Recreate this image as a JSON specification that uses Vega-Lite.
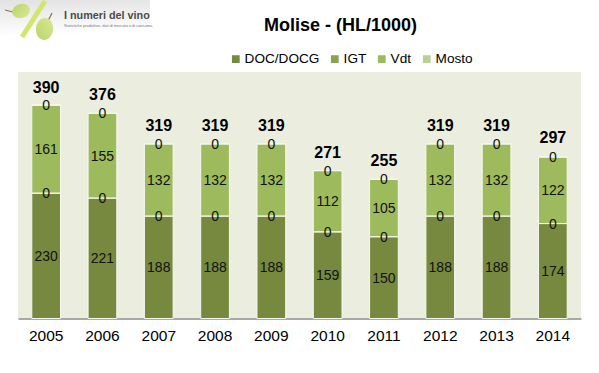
{
"$schema":"https://vega.github.io/schema/vega-lite/v6.json",
"width":563,"height":246.5,
"autosize":{"type":"none"},
"padding":{"left":18,"top":72,"right":18,"bottom":54.5},
"background":"#ffffff",
"view":{"fill":"#ebeedf","stroke":null},
"title":{"text":"Molise - (HL/1000)","font":"Liberation Sans","fontSize":18,"fontWeight":"bold","color":"#000000","anchor":"middle","dx":41,"offset":-44},
"datasets":{
"bars":[
{"year":"2005","type":"DOC/DOCG","ord":1,"value":230},{"year":"2005","type":"IGT","ord":2,"value":0},{"year":"2005","type":"Vdt","ord":3,"value":161},{"year":"2005","type":"Mosto","ord":4,"value":0},
{"year":"2006","type":"DOC/DOCG","ord":1,"value":221},{"year":"2006","type":"IGT","ord":2,"value":0},{"year":"2006","type":"Vdt","ord":3,"value":155},{"year":"2006","type":"Mosto","ord":4,"value":0},
{"year":"2007","type":"DOC/DOCG","ord":1,"value":188},{"year":"2007","type":"IGT","ord":2,"value":0},{"year":"2007","type":"Vdt","ord":3,"value":132},{"year":"2007","type":"Mosto","ord":4,"value":0},
{"year":"2008","type":"DOC/DOCG","ord":1,"value":188},{"year":"2008","type":"IGT","ord":2,"value":0},{"year":"2008","type":"Vdt","ord":3,"value":132},{"year":"2008","type":"Mosto","ord":4,"value":0},
{"year":"2009","type":"DOC/DOCG","ord":1,"value":188},{"year":"2009","type":"IGT","ord":2,"value":0},{"year":"2009","type":"Vdt","ord":3,"value":132},{"year":"2009","type":"Mosto","ord":4,"value":0},
{"year":"2010","type":"DOC/DOCG","ord":1,"value":159},{"year":"2010","type":"IGT","ord":2,"value":0},{"year":"2010","type":"Vdt","ord":3,"value":112},{"year":"2010","type":"Mosto","ord":4,"value":0},
{"year":"2011","type":"DOC/DOCG","ord":1,"value":150},{"year":"2011","type":"IGT","ord":2,"value":0},{"year":"2011","type":"Vdt","ord":3,"value":105},{"year":"2011","type":"Mosto","ord":4,"value":0},
{"year":"2012","type":"DOC/DOCG","ord":1,"value":188},{"year":"2012","type":"IGT","ord":2,"value":0},{"year":"2012","type":"Vdt","ord":3,"value":132},{"year":"2012","type":"Mosto","ord":4,"value":0},
{"year":"2013","type":"DOC/DOCG","ord":1,"value":188},{"year":"2013","type":"IGT","ord":2,"value":0},{"year":"2013","type":"Vdt","ord":3,"value":132},{"year":"2013","type":"Mosto","ord":4,"value":0},
{"year":"2014","type":"DOC/DOCG","ord":1,"value":174},{"year":"2014","type":"IGT","ord":2,"value":0},{"year":"2014","type":"Vdt","ord":3,"value":122},{"year":"2014","type":"Mosto","ord":4,"value":0}
],
"totals":[
{"year":"2005","total":390},{"year":"2006","total":376},{"year":"2007","total":319},{"year":"2008","total":319},{"year":"2009","total":319},{"year":"2010","total":271},{"year":"2011","total":255},{"year":"2012","total":319},{"year":"2013","total":319},{"year":"2014","total":297}
],
"logoBack":[{"a":0,"b":150,"c":0,"d":45}],
"logoLines":[
{"part":"slash","a":45,"c":1},{"part":"slash","a":22,"c":37}
],
"logoStems":[
{"part":"s1","a":5,"c":10},{"part":"s1","a":13,"c":12},
{"part":"s2","a":52,"c":13},{"part":"s2","a":48,"c":21}
],
"logoGrapes":[
{"a":21,"c":11,"tilt":-15,"big":324},{"a":44.5,"c":29,"tilt":-85,"big":484}
],
"logoText":[
{"a":64,"c":15.5,"label":"I numeri del vino"}
],
"logoSmall":[
{"a":64,"c":26,"label":"Statistiche produttive, dati di mercato e di consumo,"}
]
},
"resolve":{"scale":{"x":"independent","y":"independent"}},
"layer":[
{"data":{"name":"logoBack"},
 "mark":{"type":"rect","fill":{"x1":0,"y1":0,"x2":0.1,"y2":1,"gradient":"linear","stops":[{"offset":0,"color":"#e2e2e2"},{"offset":0.8,"color":"#ffffff"}]}},
 "encoding":{
  "x":{"field":"a","type":"quantitative","scale":{"domain":[18,581],"nice":false,"zero":false},"axis":null},
  "x2":{"field":"b"},
  "y":{"field":"c","type":"quantitative","scale":{"domain":[72,318.5],"reverse":true,"nice":false,"zero":false},"axis":null},
  "y2":{"field":"d"}}},
{"data":{"name":"logoLines"},
 "mark":{"type":"line","stroke":"#d4e56e","strokeWidth":5},
 "encoding":{
  "x":{"field":"a","type":"quantitative","scale":{"domain":[18,581],"nice":false,"zero":false},"axis":null},
  "y":{"field":"c","type":"quantitative","scale":{"domain":[72,318.5],"reverse":true,"nice":false,"zero":false},"axis":null},
  "detail":{"field":"part"}}},
{"data":{"name":"logoStems"},
 "mark":{"type":"line","stroke":"#8a7440","strokeWidth":1.2},
 "encoding":{
  "x":{"field":"a","type":"quantitative","scale":{"domain":[18,581],"nice":false,"zero":false},"axis":null},
  "y":{"field":"c","type":"quantitative","scale":{"domain":[72,318.5],"reverse":true,"nice":false,"zero":false},"axis":null},
  "detail":{"field":"part"}}},
{"data":{"name":"logoGrapes"},
 "mark":{"type":"point","filled":true,"opacity":1,"shape":"M-1,0A1,0.78,0,1,1,1,0A1,0.78,0,1,1,-1,0Z","fill":{"x1":0,"y1":0,"x2":1,"y2":1,"gradient":"linear","stops":[{"offset":0,"color":"#bcd46a"},{"offset":1,"color":"#d8e894"}]}},
 "encoding":{
  "x":{"field":"a","type":"quantitative","scale":{"domain":[18,581],"nice":false,"zero":false},"axis":null},
  "y":{"field":"c","type":"quantitative","scale":{"domain":[72,318.5],"reverse":true,"nice":false,"zero":false},"axis":null},
  "size":{"field":"big","type":"quantitative","scale":null},
  "angle":{"field":"tilt","type":"quantitative","scale":null}}},
{"data":{"name":"logoText"},
 "mark":{"type":"text","align":"left","baseline":"middle","font":"Liberation Sans","fontSize":10.8,"fontWeight":"bold","color":"#4a4a4a"},
 "encoding":{
  "x":{"field":"a","type":"quantitative","scale":{"domain":[18,581],"nice":false,"zero":false},"axis":null},
  "y":{"field":"c","type":"quantitative","scale":{"domain":[72,318.5],"reverse":true,"nice":false,"zero":false},"axis":null},
  "text":{"field":"label"}}},
{"data":{"name":"logoSmall"},
 "mark":{"type":"text","align":"left","baseline":"middle","font":"Liberation Sans","fontSize":3.9,"color":"#777777"},
 "encoding":{
  "x":{"field":"a","type":"quantitative","scale":{"domain":[18,581],"nice":false,"zero":false},"axis":null},
  "y":{"field":"c","type":"quantitative","scale":{"domain":[72,318.5],"reverse":true,"nice":false,"zero":false},"axis":null},
  "text":{"field":"label"}}},
{"layer":[
 {"data":{"name":"bars"},
  "mark":{"type":"bar","stroke":"#f6f8f0","strokeWidth":1},
  "encoding":{
   "x":{"field":"year","type":"nominal","scale":{"paddingInner":0.49,"paddingOuter":0.245},"axis":{"title":null,"labelAngle":0,"labelFont":"Liberation Sans","labelFontSize":15.5,"labelColor":"#000000","labelPadding":10,"ticks":false,"domainColor":"#8c8c8c","domainWidth":1.5,"grid":false}},
   "y":{"field":"value","type":"quantitative","stack":"zero","scale":{"domain":[0,451.7],"nice":false},"axis":null},
   "color":{"field":"type","type":"nominal","scale":{"domain":["DOC/DOCG","IGT","Vdt","Mosto"],"range":["#76893f","#8ca252","#9dbb5c","#b9cf96"]},
    "legend":{"title":null,"orient":"none","direction":"horizontal","columns":4,"legendX":211,"legendY":-20,"symbolType":"square","symbolSize":60,"symbolStrokeWidth":0,"labelFont":"Liberation Sans","labelFontSize":13.6,"labelColor":"#000000","columnPadding":8,"labelOffset":2}},
   "order":{"field":"ord","type":"quantitative"}}},
 {"data":{"name":"bars"},
  "transform":[
   {"stack":"value","groupby":["year"],"sort":[{"field":"ord","order":"ascending"}],"as":["lo","hi"]},
   {"calculate":"(datum.lo+datum.hi)/2","as":"mid"}],
  "mark":{"type":"text","font":"Liberation Sans","fontSize":14,"color":"#111111","baseline":"middle","dy":1},
  "encoding":{
   "x":{"field":"year","type":"nominal"},
   "y":{"field":"mid","type":"quantitative","scale":{"domain":[0,451.7],"nice":false},"axis":null},
   "text":{"field":"value","type":"quantitative"}}},
 {"data":{"name":"totals"},
  "mark":{"type":"text","font":"Liberation Sans","fontSize":16,"fontWeight":"bold","color":"#000000","baseline":"middle","dy":-18},
  "encoding":{
   "x":{"field":"year","type":"nominal"},
   "y":{"field":"total","type":"quantitative","scale":{"domain":[0,451.7],"nice":false},"axis":null},
   "text":{"field":"total","type":"quantitative"}}}
]}
]
}
